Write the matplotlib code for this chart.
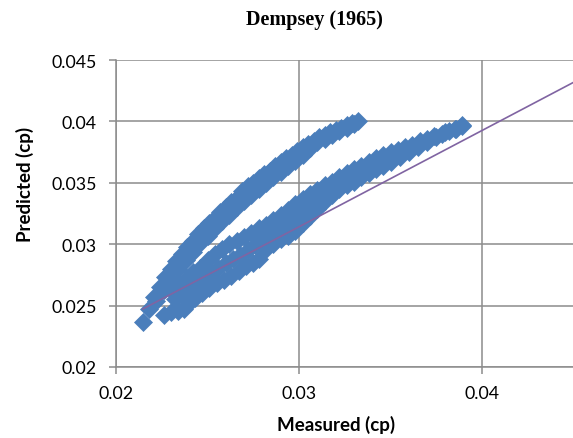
import matplotlib
matplotlib.use("Agg")
import matplotlib.pyplot as plt
from matplotlib.ticker import FuncFormatter

# ---- data ----
upper_a_x = [0.0215, 0.0218, 0.0221, 0.0224, 0.0227, 0.0230, 0.0233, 0.0236, 0.0239, 0.0242,
             0.0245, 0.0248, 0.0251, 0.0254, 0.0257, 0.0260, 0.0263, 0.0266, 0.0269, 0.0272,
             0.0275, 0.0278, 0.0281, 0.0284, 0.0287, 0.0290, 0.0293, 0.0296, 0.0299, 0.0302,
             0.0305, 0.0308, 0.0311, 0.0314, 0.0317, 0.0320, 0.0323, 0.0326, 0.0329, 0.0332]
upper_a_y = [0.0237, 0.0247, 0.0257, 0.0265, 0.0273, 0.0280, 0.0286, 0.0292, 0.0298, 0.0303,
             0.0308, 0.0313, 0.0317, 0.0321, 0.0326, 0.0330, 0.0334, 0.0338, 0.0343, 0.0347,
             0.0350, 0.0354, 0.0357, 0.0360, 0.0364, 0.0367, 0.0370, 0.0373, 0.0376, 0.0379,
             0.0382, 0.0384, 0.0387, 0.0389, 0.0391, 0.0393, 0.0395, 0.0397, 0.0399, 0.0400]

upper_b_x = [0.0222, 0.0226, 0.0230, 0.0234, 0.0238, 0.0242, 0.0246, 0.0250, 0.0254, 0.0258,
             0.0262, 0.0266, 0.0270, 0.0274, 0.0278, 0.0282, 0.0286, 0.0290, 0.0294, 0.0298,
             0.0302, 0.0306, 0.0310, 0.0314, 0.0318, 0.0322, 0.0326, 0.0330]
upper_b_y = [0.0254, 0.0263, 0.0271, 0.0280, 0.0287, 0.0294, 0.0301, 0.0307, 0.0313, 0.0319,
             0.0324, 0.0330, 0.0335, 0.0340, 0.0345, 0.0350, 0.0355, 0.0359, 0.0364, 0.0368,
             0.0373, 0.0378, 0.0383, 0.0386, 0.0389, 0.0392, 0.0395, 0.0398]

lower_a_x = [0.0230, 0.0234, 0.0238, 0.0242, 0.0246, 0.0250, 0.0254, 0.0258, 0.0262, 0.0266,
             0.0270, 0.0274, 0.0278, 0.0282, 0.0286, 0.0290, 0.0294, 0.0298, 0.0302, 0.0306,
             0.0310, 0.0314, 0.0318, 0.0322, 0.0326, 0.0330, 0.0334, 0.0338, 0.0342, 0.0346,
             0.0350, 0.0354, 0.0358, 0.0362, 0.0366, 0.0370, 0.0374, 0.0378, 0.0382, 0.0386,
             0.0389]
lower_a_y = [0.0263, 0.0268, 0.0272, 0.0277, 0.0281, 0.0287, 0.0292, 0.0296, 0.0300, 0.0303,
             0.0306, 0.0309, 0.0313, 0.0316, 0.0320, 0.0324, 0.0328, 0.0333, 0.0337, 0.0341,
             0.0344, 0.0348, 0.0351, 0.0355, 0.0358, 0.0361, 0.0364, 0.0367, 0.0370, 0.0373,
             0.0375, 0.0377, 0.0379, 0.0381, 0.0384, 0.0386, 0.0388, 0.0390, 0.0392, 0.0394,
             0.0396]

lower_c_x = [0.0232, 0.0236, 0.0240, 0.0244, 0.0248, 0.0252, 0.0256, 0.0260, 0.0264, 0.0268,
             0.0272, 0.0276, 0.0280, 0.0284, 0.0288, 0.0292, 0.0296, 0.0300, 0.0304, 0.0308,
             0.0312, 0.0316, 0.0320]
lower_c_y = [0.0255, 0.0259, 0.0263, 0.0268, 0.0272, 0.0277, 0.0281, 0.0285, 0.0288, 0.0291,
             0.0295, 0.0299, 0.0304, 0.0308, 0.0312, 0.0316, 0.0320, 0.0325, 0.0329, 0.0334,
             0.0339, 0.0343, 0.0347]

lower_b_x = [0.0226, 0.0230, 0.0234, 0.0237, 0.0240, 0.0243, 0.0247, 0.0251, 0.0255, 0.0259,
             0.0263, 0.0267, 0.0271, 0.0275, 0.0278, 0.0282, 0.0286, 0.0290, 0.0294, 0.0298,
             0.0302, 0.0306, 0.0310, 0.0314, 0.0318, 0.0322, 0.0326, 0.0330, 0.0334, 0.0338,
             0.0342, 0.0346, 0.0350, 0.0355, 0.0360, 0.0365, 0.0370, 0.0375, 0.0380, 0.0385,
             0.0389]
lower_b_y = [0.0242, 0.0245, 0.0246, 0.0247, 0.0252, 0.0256, 0.0260, 0.0264, 0.0268, 0.0271,
             0.0274, 0.0278, 0.0282, 0.0285, 0.0288, 0.0296, 0.0300, 0.0304, 0.0307, 0.0311,
             0.0317, 0.0323, 0.0329, 0.0335, 0.0340, 0.0345, 0.0348, 0.0351, 0.0355, 0.0358,
             0.0361, 0.0364, 0.0367, 0.0371, 0.0375, 0.0379, 0.0383, 0.0387, 0.0391, 0.0394,
             0.0397]

trend_x = [0.02146, 0.0450]
trend_y = [0.02472, 0.04318]

x_ticks = [0.02, 0.03, 0.04]
y_ticks = [0.02, 0.025, 0.03, 0.035, 0.04, 0.045]

title = "Dempsey (1965)"
x_label = "Measured (cp)"
y_label = "Predicted (cp)"

# ---- drawing ----
W, H = 573, 439
fig = plt.figure(figsize=(W / 100, H / 100), dpi=100)
ax = fig.add_axes([116 / W, 1 - 368 / H, (573.5 - 116) / W, (368 - 61) / H])

blue = "#4a7ebb"
grid_c = "#8c8c8c"
for xs, ys in [(lower_b_x, lower_b_y), (lower_c_x, lower_c_y), (lower_a_x, lower_a_y),
               (upper_b_x, upper_b_y), (upper_a_x, upper_a_y)]:
    ax.plot(xs, ys, linestyle="none", marker="D", ms=9.3, color=blue,
            markeredgecolor=blue, markeredgewidth=0.5, zorder=3, clip_on=False)

ax.plot(trend_x, trend_y, color="#8064a2", lw=1.2, zorder=4, clip_on=False)

ax.set_xlim(0.02, 0.045)
ax.set_ylim(0.02, 0.045)
ax.set_xticks(x_ticks)
ax.set_yticks(y_ticks)
fmt = FuncFormatter(lambda v, p: f"{v:g}")
ax.xaxis.set_major_formatter(fmt)
ax.yaxis.set_major_formatter(fmt)

ax.grid(True, color=grid_c, lw=1.1, zorder=0)
ax.set_axisbelow(True)
for s in ["top", "right"]:
    ax.spines[s].set_visible(False)
for s in ["left", "bottom"]:
    ax.spines[s].set_color(grid_c)
    ax.spines[s].set_linewidth(1.1)

ax.tick_params(axis="both", direction="out", length=5, width=1.1, color=grid_c,
               labelsize=12.8, labelcolor="black")
ax.tick_params(axis="y", pad=9)
ax.tick_params(axis="x", pad=8)
for lab in ax.get_xticklabels() + ax.get_yticklabels():
    lab.set_fontfamily("Lato")

fig.text(314.5 / W, 1 - 20 / H, title, ha="center", va="center",
         fontsize=14.5, fontweight="bold", family="Liberation Serif")
fig.text(336.5 / W, 1 - 425 / H, x_label, ha="center", va="center",
         fontsize=13.5, fontweight="bold", family="Lato")
fig.text(25 / W, 1 - 184 / H, y_label, ha="center", va="center", rotation=90,
         fontsize=13.5, fontweight="bold", family="Lato")

fig.savefig("out.png", dpi=100)
